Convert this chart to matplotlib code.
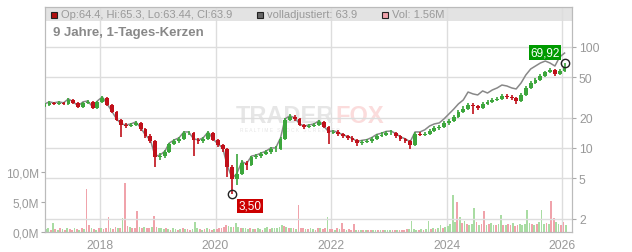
import matplotlib
matplotlib.use('Agg')
import matplotlib.pyplot as plt
import matplotlib.dates as mdates
from matplotlib.patches import Rectangle
from matplotlib.ticker import NullLocator
import numpy as np
import pandas as pd

plt.rcParams['font.family'] = ['Liberation Sans', 'DejaVu Sans']

# monatliche Kerzen Jan 2017 .. Jan 2026
months = pd.date_range('2017-01-01', '2026-01-01', freq='MS') + pd.Timedelta(days=14)
first_open = 26.2
closes = [
    26.7, 27.9, 27.3, 27.9, 27.3, 29.9, 27.9, 25.5, 27.9, 28.5, 24.9, 28.5,
    31.3, 26.7, 22.7, 18.9, 16.9, 16.5, 16.9, 17.7, 15.4, 13.1, 11.7, 8.1,
    8.3, 9.1, 10.95, 11.7, 12.3, 14.1, 14.1, 12.0, 11.7, 12.3, 14.1, 12.0,
    10.7, 9.8, 6.5, 4.9, 5.5, 7.1, 6.8, 8.1, 8.3, 8.7, 9.1, 9.8,
    9.8, 12.3, 18.9, 20.3, 19.4, 16.9, 16.1, 16.5, 16.9, 18.1, 16.1, 14.1,
    14.4, 13.8, 13.1, 12.6, 12.0, 11.2, 11.5, 11.7, 12.3, 13.1, 13.5, 14.1,
    14.1, 13.1, 12.3, 11.7, 10.7, 13.8, 13.5, 13.8, 14.7, 15.8, 16.1, 17.7,
    18.5, 20.3, 22.7, 24.3, 26.7, 26.1, 24.9, 27.3, 28.5, 29.9, 30.6, 32.7,
    32.0, 31.3, 29.2, 33.5, 39.3, 44.0, 47.1, 51.6, 56.6, 59.2, 54.0, 57.9,
    63.9]
highs = [
    28.0, 29.0, 28.8, 29.0, 28.6, 31.0, 30.4, 28.3, 28.8, 29.6, 29.0, 29.2,
    33.0, 31.8, 27.2, 23.0, 19.4, 17.6, 17.8, 18.3, 18.0, 15.8, 13.6, 12.0,
    8.9, 9.5, 11.3, 12.2, 12.9, 14.6, 14.8, 14.4, 12.6, 12.9, 14.8, 14.3,
    12.4, 11.0, 10.0, 6.8, 8.7, 7.6, 7.4, 8.4, 8.8, 9.1, 9.6, 10.3,
    10.4, 12.8, 19.8, 21.8, 21.0, 19.8, 17.4, 17.2, 17.6, 18.9, 18.4, 16.4,
    15.0, 14.9, 14.2, 13.5, 13.0, 12.3, 12.0, 12.3, 12.8, 13.7, 14.3, 14.8,
    14.9, 14.4, 13.4, 12.6, 12.0, 14.4, 14.4, 14.5, 15.3, 16.5, 17.0, 18.4,
    19.4, 21.2, 23.8, 25.8, 28.0, 27.6, 26.8, 28.4, 29.8, 31.0, 32.2, 34.0,
    34.0, 33.2, 31.8, 34.8, 40.8, 45.8, 49.0, 53.5, 58.5, 62.0, 60.0, 60.5,
    69.92]
lows = [
    25.6, 26.2, 26.5, 26.6, 26.4, 26.9, 27.0, 24.6, 25.0, 27.0, 24.2, 24.5,
    28.0, 26.0, 22.0, 18.4, 12.9, 15.8, 16.0, 16.4, 14.8, 12.6, 11.2, 6.5,
    7.6, 8.0, 8.9, 10.6, 11.3, 12.0, 13.5, 8.3, 11.0, 11.3, 12.0, 11.6,
    10.3, 9.2, 5.2, 3.5, 4.3, 5.4, 6.1, 6.6, 7.8, 8.0, 8.5, 8.8,
    9.2, 9.6, 12.0, 18.3, 18.6, 16.4, 15.5, 15.7, 16.0, 16.6, 15.6, 11.0,
    13.6, 13.2, 12.5, 12.0, 11.5, 10.4, 10.8, 11.1, 11.3, 12.0, 12.8, 13.2,
    13.5, 12.6, 11.8, 11.1, 9.7, 10.5, 13.0, 13.1, 13.4, 14.3, 15.2, 15.7,
    17.0, 17.9, 19.8, 22.0, 23.8, 21.5, 24.0, 24.4, 26.6, 27.8, 29.0, 30.0,
    30.8, 30.0, 27.0, 28.6, 33.0, 38.5, 43.0, 46.0, 50.8, 55.0, 52.0, 53.0,
    57.0]
adjusted = [
    27.3, 28.6, 28.0, 28.6, 28.0, 30.6, 28.6, 26.1, 28.6, 29.2, 25.5, 29.2,
    32.0, 27.3, 23.3, 19.4, 17.3, 16.9, 17.3, 18.1, 15.8, 13.4, 12.0, 8.3,
    8.5, 9.3, 11.2, 12.0, 12.6, 14.4, 14.4, 12.3, 12.0, 12.6, 14.4, 12.3,
    11.0, 10.0, 6.7, 5.0, 5.6, 7.3, 7.0, 8.3, 8.5, 8.9, 9.3, 10.0,
    10.0, 12.6, 19.4, 20.8, 19.9, 17.3, 16.5, 16.9, 17.3, 18.6, 16.5, 14.5,
    14.8, 14.2, 13.5, 13.0, 12.4, 11.6, 11.9, 12.1, 12.7, 13.6, 14.0, 14.6,
    14.7, 13.8, 12.85, 12.3, 11.5, 14.4, 14.4, 15.1, 16.5, 17.3, 17.7, 19.4,
    21.7, 24.3, 27.3, 29.9, 35.8, 34.3, 33.5, 36.7, 35.0, 37.5, 39.3, 42.0,
    41.1, 39.3, 38.4, 44.0, 52.8, 60.6, 64.8, 69.4, 72.6, 69.4, 64.8, 79.6,
    87.1]

# Volumen (Mio.), halbmonatlich
vol_dates = sorted(list(months - pd.Timedelta(days=7)) + list(months + pd.Timedelta(days=8)))
volumes = [
    0.6, 0.5, 0.7, 0.4, 1.5, 0.5, 0.4, 0.6, 0.5, 0.4, 0.6, 0.5, 0.4, 0.7, 0.5, 0.4, 0.6, 0.5, 7.2, 1.1, 0.6, 0.5, 0.4, 0.6,
    0.6, 0.5, 0.7, 2.5, 0.6, 0.5, 0.8, 0.6, 0.7, 2.3, 8.2, 1.0, 0.8, 0.6, 0.7, 3.5, 0.9, 0.7, 0.8, 0.6, 0.7, 0.9, 2.7, 0.8,
    0.7, 0.6, 0.5, 0.6, 0.5, 0.4, 0.6, 0.5, 0.4, 0.5, 0.6, 0.5, 0.5, 0.4, 0.5, 1.7, 0.6, 0.5, 0.4, 0.5, 0.6, 0.5, 0.4, 0.5,
    0.5, 0.6, 0.7, 0.8, 1.1, 1.0, 0.9, 0.8, 1.5, 0.8, 0.7, 0.6, 0.6, 0.5, 0.6, 0.5, 0.5, 0.6, 0.5, 0.4, 0.6, 0.8, 0.5, 0.6,
    0.6, 0.7, 0.9, 1.1, 1.0, 0.8, 0.6, 0.7, 0.6, 0.5, 4.5, 0.7, 0.6, 0.5, 0.5, 0.6, 0.5, 0.4, 0.6, 0.7, 0.5, 0.6, 2.5, 0.5,
    0.5, 0.4, 0.6, 0.5, 1.5, 0.5, 0.4, 0.5, 0.4, 1.3, 0.4, 0.3, 0.4, 0.3, 0.3, 0.4, 0.3, 0.4, 0.3, 0.3, 0.4, 0.3, 0.3, 0.4,
    0.3, 0.4, 0.3, 0.4, 0.3, 0.4, 0.4, 0.5, 0.5, 1.8, 0.5, 0.4, 0.4, 0.5, 0.4, 0.5, 1.8, 0.5, 0.6, 0.5, 0.6, 1.1, 0.7, 0.8,
    1.0, 1.4, 6.2, 1.6, 5.0, 2.5, 1.5, 1.8, 1.3, 1.2, 1.4, 4.0, 1.6, 1.2, 1.3, 3.5, 1.2, 1.4, 1.5, 1.1, 1.2, 1.3, 2.8, 1.2,
    1.1, 1.3, 1.2, 1.5, 1.0, 1.2, 1.3, 1.1, 1.4, 3.7, 1.5, 1.3, 1.2, 1.4, 1.6, 3.7, 1.3, 1.5, 1.4, 5.2, 2.3, 1.6, 1.4, 1.2,
    1.7, 1.2]
vol_dirs = ("rggrgrgrgrgrrgrgrgrrgrgr" "grrrgrrgrgrrgrrrgrgrrgrr" "gggrgrggrgrgrrgggrgrgrrg"
            "rrrrrggrggrgggrgrggrggrg" "ggggrgrgrgrrrgrggrrgrrgr" "rgrgrrgrrrgrgrgrrggrgrgg"
            "grrgrrrrggggrgrggrgrggrg" "ggggrgrgrgggrgrrgrggrggr" "grrgrrgggggrgrgggrgrrggr" "rg")

header_ohlc = 'Op:64.4, Hi:65.3, Lo:63.44, Cl:63.9'
header_adj = 'volladjustiert: 63.9'
header_vol = 'Vol: 1.56M'
title = '9 Jahre, 1-Tages-Kerzen'

c = np.array(closes)
o = np.array([first_open] + closes[:-1])
up = c >= o
candle_cols = np.where(up, '#3ca63c', '#c0101a')
vol_cols = ['#a9dca3' if d == 'g' else '#f0a3ab' for d in vol_dirs]

fig = plt.figure(figsize=(6.32, 2.53), dpi=100)
ax = fig.add_axes([45 / 632, 20 / 253, 527 / 632, 225 / 253])
axp = ax.twinx()

grid_c = '#dddddd'
ax.add_patch(Rectangle((0, 1 - 14 / 225), 1, 14 / 225, transform=ax.transAxes,
                       facecolor='#e3e3e3', edgecolor='none', zorder=0.5))
years = pd.to_datetime(['2018-01-01', '2020-01-01', '2022-01-01', '2024-01-01', '2026-01-01'])
for yr in years:
    ax.axvline(yr, color=grid_c, lw=1, zorder=1)

# Volumen
ax.bar(vol_dates, volumes, width=11, color=vol_cols, zorder=2)
ax.set_ylim(0, 37.5)
ax.set_yticks([0, 5, 10])
ax.set_yticklabels(['0,0M', '5,0M', '10,0M'])

# Wasserzeichen
ax.text(334 / 632, 1 - 116.5 / 253, 'TRADER', transform=fig.transFigure, ha='right', va='center',
        fontsize=17, fontweight='bold', color='#e6e6e6', zorder=1.5)
ax.text(335 / 632, 1 - 116.5 / 253, 'FOX', transform=fig.transFigure, ha='left', va='center',
        fontsize=17, fontweight='bold', color='#fbdcdc', zorder=1.5)
ax.text(240 / 632, 1 - 130 / 253, 'R E A L T I M E   S T O C K   S C R E E N E R', transform=fig.transFigure,
        ha='left', va='center', fontsize=3.5, color='#e6e6e6', zorder=1.5)

# Kurs
axp.set_yscale('log')
for v in [2, 5, 10, 20, 50, 100]:
    axp.axhline(v, color=grid_c, lw=1, zorder=0.5)
axp.plot(months, adjusted, color='#888888', lw=1.1, zorder=2)
axp.vlines(months, lows, highs, colors=candle_cols, lw=1.2, zorder=3)
axp.bar(months, np.abs(c - o), bottom=np.minimum(o, c), width=24, color=candle_cols, zorder=3)
axp.set_ylim(1.47, 249)
axp.set_yticks([2, 5, 10, 20, 50, 100])
axp.set_yticklabels(['2', '5', '10', '20', '50', '100'])
axp.yaxis.set_minor_locator(NullLocator())

i_max = int(np.argmax(highs))
i_min = int(np.argmin(lows))
axp.plot(months[i_max], highs[i_max], 'o', mfc='none', mec='#222222', ms=6, mew=1, zorder=5)
axp.plot(months[i_min], lows[i_min], 'o', mfc='none', mec='#222222', ms=6, mew=1, zorder=5)
axp.annotate('69,92', xy=(months[i_max], highs[i_max]), xytext=(-5, 10), textcoords='offset pixels',
             ha='right', va='center', color='white', fontsize=8.5, zorder=6,
             bbox=dict(boxstyle='square,pad=0.12', fc='#009a00', ec='none'))
axp.annotate('3,50', xy=(months[i_min], lows[i_min]), xytext=(6, -12), textcoords='offset pixels',
             ha='left', va='center', color='white', fontsize=8.5, zorder=6,
             bbox=dict(boxstyle='square,pad=0.12', fc='#cc0000', ec='none'))

ax.set_xlim(pd.Timestamp('2017-01-18'), pd.Timestamp('2026-03-03'))
ax.set_xticks(years)
ax.xaxis.set_major_formatter(mdates.DateFormatter('%Y'))

tc = '#999999'
ax.tick_params(axis='x', length=0, pad=5, labelsize=8.7, labelcolor=tc)
ax.tick_params(axis='y', length=3, color='#aaaaaa', labelsize=8.6, labelcolor=tc, pad=1)
axp.tick_params(axis='y', length=3, color='#aaaaaa', labelsize=8.7, labelcolor=tc, pad=2)
for a in (ax, axp):
    for s in a.spines.values():
        s.set_color('#bbbbbb')

# Kopfzeile
def square(x, col):
    fig.add_artist(Rectangle((x / 632, 1 - 18.5 / 253), 6 / 632, 6 / 253, transform=fig.transFigure,
                             facecolor=col, edgecolor='#222222', lw=0.8))

square(51, '#b01010')
square(257, '#666666')
square(382, '#f0a3ab')
fig.text(61 / 632, 1 - 15.5 / 253, header_ohlc, fontsize=8, color=tc, va='center')
fig.text(267 / 632, 1 - 15.5 / 253, header_adj, fontsize=8, color=tc, va='center')
fig.text(392 / 632, 1 - 15.5 / 253, header_vol, fontsize=8, color=tc, va='center')
fig.text(53 / 632, 1 - 33 / 253, title, fontsize=9.5, fontweight='bold', color='#888888', va='center')

fig.savefig('out.png', dpi=100)
